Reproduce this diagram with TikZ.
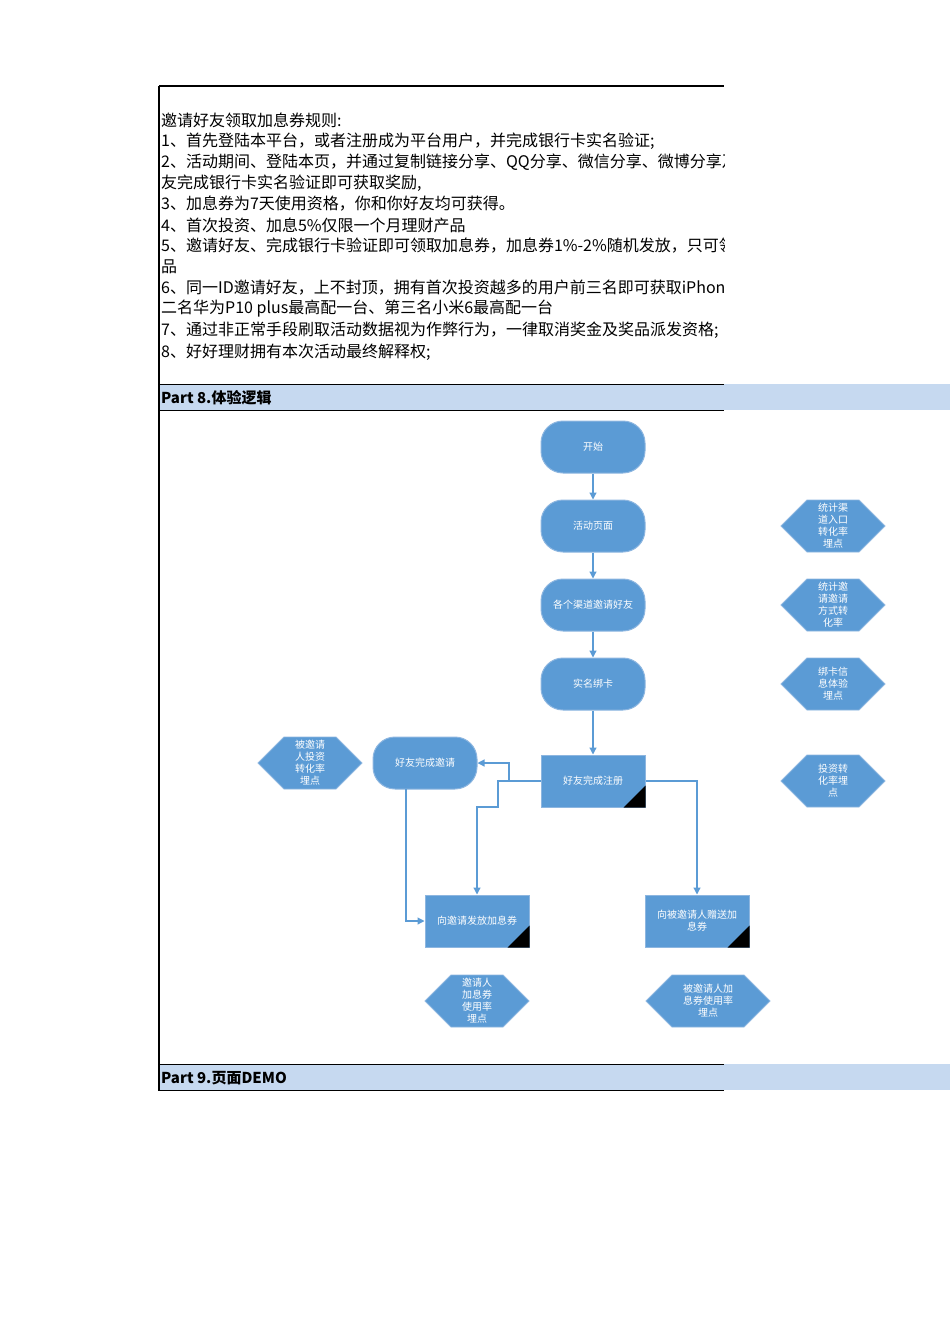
\documentclass[tikz,border=0pt]{standalone}
\usepackage{fontspec}
\setmainfont{Noto Sans CJK SC}
\usetikzlibrary{shapes.geometric,arrows.meta}
\definecolor{fb}{HTML}{5B9BD5}
\definecolor{fbd}{HTML}{8DB6E0}
\definecolor{band}{HTML}{C6D9F0}
\begin{document}
\begin{tikzpicture}[x=1pt,y=-1pt,
  term/.style={draw=fbd,fill=fb,rounded corners=22pt,minimum width=104pt,minimum height=52pt,text=white,font=\fontsize{10}{11}\selectfont,align=center,line width=1pt},
  proc/.style={draw=fbd,fill=fb,minimum width=104pt,minimum height=52pt,text=white,font=\fontsize{10}{12}\selectfont,align=center,text width=100pt,line width=1pt,inner sep=2pt},
  ln/.style={draw=fb,line width=1.2pt},
  ar/.style={ln,-{Triangle[length=7pt,width=7pt]}},
  ht/.style={text=white,font=\fontsize{10}{12}\selectfont,align=center},
  rule/.style={font=\fontsize{16}{16}\selectfont,anchor=west,inner sep=0pt}]
\useasboundingbox (0,0) rectangle (950,1344);
% bands
\fill[band] (159,384) rectangle (950,410);
\fill[band] (159,1064) rectangle (950,1090);
\draw[line width=1.3pt] (159,86) -- (724,86);
\draw[line width=1pt] (159,384) -- (724,384) (159,410) -- (724,410);
\draw[line width=1pt] (159,1064) -- (724,1064) (159,1090) -- (724,1090);
\draw[line width=2pt] (159,86) -- (159,1091);
\node[rule,font=\fontsize{15}{16}\selectfont\bfseries] (p8) at (161,398) {Part 8.体验逻辑};
\node[rule,font=\fontsize{15}{16}\selectfont\bfseries] (p9) at (161,1078) {Part 9.页面DEMO};
\begin{scope}
\clip (160,90) rectangle (724,380);
\node[rule] (t0) at (161,120) {邀请好友领取加息券规则:};
\node[rule] (t1) at (161,141) {1、首先登陆本平台，或者注册成为平台用户，并完成银行卡实名验证;};
\node[rule] (t2) at (161,162) {2、活动期间、登陆本页，并通过复制链接分享、QQ分享、微信分享、微博分享及邀请好友};
\node[rule] (t3) at (161,183) {友完成银行卡实名验证即可获取奖励,};
\node[rule] (t4) at (161,204) {3、加息券为7天使用资格，你和你好友均可获得。};
\node[rule] (t5) at (161,225) {4、首次投资、加息5\%仅限一个月理财产品};
\node[rule] (t6) at (161,246) {5、邀请好友、完成银行卡验证即可领取加息券，加息券1\%-2\%随机发放，只可领取};
\node[rule] (t7) at (161,267) {品};
\node[rule] (t8) at (161,288) {6、同一ID邀请好友，上不封顶，拥有首次投资越多的用户前三名即可获取iPhone};
\node[rule] (t9) at (161,309) {二名华为P10 plus最高配一台、第三名小米6最高配一台};
\node[rule] (t10) at (161,330) {7、通过非正常手段刷取活动数据视为作弊行为，一律取消奖金及奖品派发资格;};
\node[rule] (t11) at (161,352) {8、好好理财拥有本次活动最终解释权;};
\end{scope}
% flow nodes
\node[term] (s) at (593,447) {开始};
\node[term] (a) at (593,526) {活动页面};
\node[term] (b) at (593,605) {各个渠道邀请好友};
\node[term] (c) at (593,684) {实名绑卡};
\node[proc] (r) at (593,781) {好友完成注册};
\node[term] (iv) at (425,763) {好友完成邀请};
\node[proc] (g1) at (477,921) {向邀请发放加息券};
\node[proc] (g2) at (697,921) {向被邀请人赠送加\\息券};
\foreach \n in {r,g1,g2}{\fill[black] (\n.south east) -- ++(0,-22) -- ++(-22,22) -- cycle;}
% hexagons
\newcommand{\hx}[3]{\draw[draw=fbd,fill=fb,line width=0.8pt] (#1-#3/2,#2) -- (#1-#3/2+26,#2-26) -- (#1+#3/2-26,#2-26) -- (#1+#3/2,#2) -- (#1+#3/2-26,#2+26) -- (#1-#3/2+26,#2+26) -- cycle;}
\hx{310}{763}{104}\hx{833}{526}{104}\hx{833}{605}{104}\hx{833}{684}{104}\hx{833}{781}{104}\hx{477}{1001}{104}\hx{708}{1001}{124}
\node[ht] (h1) at (310,763) {被邀请\\人投资\\转化率\\埋点};
\node[ht] (h2) at (833,526) {统计渠\\道入口\\转化率\\埋点};
\node[ht] (h3) at (833,605) {统计邀\\请邀请\\方式转\\化率};
\node[ht] (h4) at (833,684) {绑卡信\\息体验\\埋点};
\node[ht] (h5) at (833,781) {投资转\\化率埋\\点};
\node[ht] (h6) at (477,1001) {邀请人\\加息券\\使用率\\埋点};
\node[ht] (h7) at (708,1001) {被邀请人加\\息券使用率\\埋点};
% connectors
\draw[ar] (s) -- (a);
\draw[ar] (a) -- (b);
\draw[ar] (b) -- (c);
\draw[ar] (c) -- (r);
\coordinate (j1) at (509,781);
\coordinate (j2) at (406,789);
\draw[ln] (r.west) -- (j1);
\draw[ar] (j1) -- (509,763) -- (iv.east);
\draw[ar] (j1) -- (498,781) -- (498,807) -- (477,807) -- (g1.north);
\draw[ar] (j2) -- (406,921) -- (g1.west);
\draw[ar] (r.east) -- (697,781) -- (g2.north);
\end{tikzpicture}
\end{document}
